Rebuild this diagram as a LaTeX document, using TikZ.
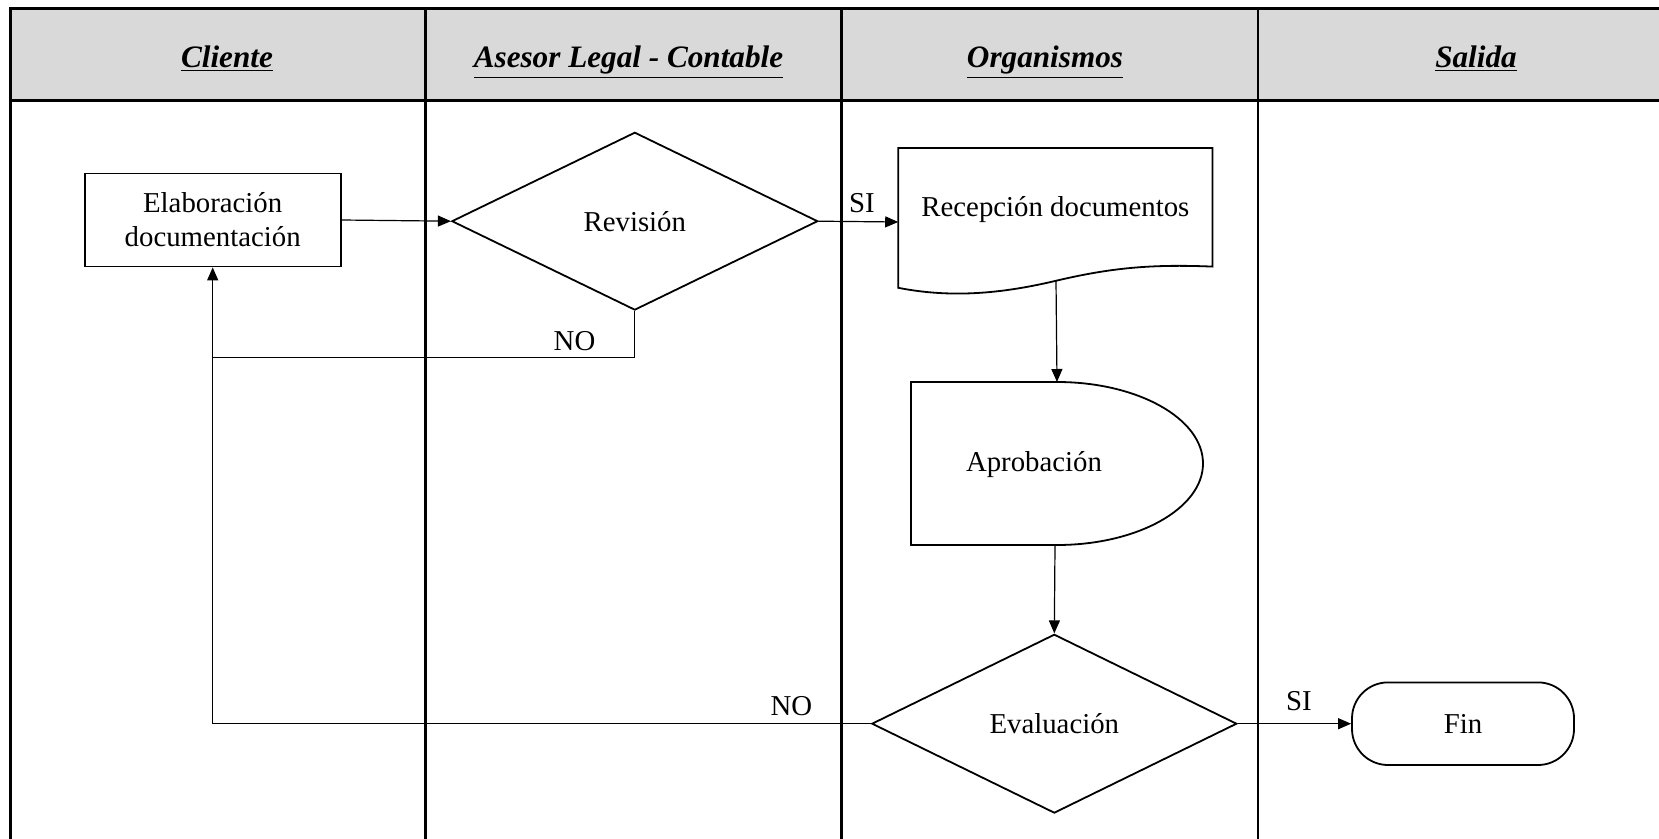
\documentclass[tikz,border=0pt]{standalone}
\usepackage{fontspec}
\setmainfont{Liberation Serif}
\usetikzlibrary{shapes.geometric,arrows.meta}
\definecolor{hdr}{HTML}{D9D9D9}
\begin{document}
\begin{tikzpicture}[x=0.5pt,y=-0.5pt,
  lane/.style={line width=1.4pt},
  shp/.style={draw, line width=0.9pt, fill=white},
  box/.style={shp, font=\fontsize{14.4}{17}\selectfont, align=center},
  dec/.style={box, diamond, aspect=2, inner sep=0pt},
  conn/.style={line width=0.6pt},
  arr/.style={conn, -{Triangle[length=6.5pt,width=5.5pt]}},
  lbl/.style={font=\fontsize{14.4}{17}\selectfont, inner sep=0pt},
  hd/.style={font=\fontsize{15.6}{19}\selectfont\bfseries\itshape, anchor=base, inner sep=0pt}]
\useasboundingbox (0,0) rectangle (1659,839);
\fill[hdr] (10.6,8.5) rectangle (1659,100.5);
\draw[lane] (10.6,839) -- (10.6,8.5) -- (1659,8.5);
\draw[lane] (10.6,100.5) -- (1659,100.5);
\foreach \x in {425.3,841.1,1258} \draw[lane] (\x,8.5) -- (\x,839);
% headers
\node[hd] (h1) at (227,67.5) {\underline{Cliente}};
\node[hd] (h2) at (628.5,67.5) {\underline{Asesor Legal - Contable}};
\node[hd] (h3) at (1045,67.5) {\underline{Organismos}};
\node[hd] (h4) at (1476,67.5) {\underline{Salida}};
% nodes
\node[box, minimum width=128pt, minimum height=46.5pt] (elab) at (212.7,220) {Elaboración\\documentación};
\node[dec, minimum width=183pt, minimum height=88.9pt] (rev) at (634.8,221.2) {Revisión};
\draw[shp] (898.2,148.1) -- (1212.5,148.1) -- (1212.5,266.6)
  .. controls (1150,264) and (1110,268) .. (1055,281)
  .. controls (1000,294) and (950,298) .. (898.2,287.8) -- cycle;
\node[lbl] (rec) at (1055.4,209.5) {Recepción documentos};
\coordinate (recw) at (898.2,222);
\coordinate (recs) at (1056,281);
\draw[shp] (911,382) -- (1057,382) .. controls (1137.6,382) and (1203,418.5) .. (1203,463.5)
  .. controls (1203,508.5) and (1137.6,545) .. (1057,545) -- (911,545) -- cycle;
\node[lbl] (apr) at (1034,465) {Aprobación};
\coordinate (aprn) at (1057,382);
\coordinate (aprs) at (1055,545);
\node[dec, minimum width=182.5pt, minimum height=89.4pt] (eva) at (1054.3,723.7) {Evaluación};
\node[box, rounded corners=18pt, minimum width=111pt, minimum height=41.3pt] (fin) at (1463,723.7) {Fin};
% connectors
\coordinate (j1) at (634.8,357.6);
\coordinate (j2) at (212.7,357.6);
\coordinate (j3) at (212.7,723.7);
\draw[arr] (elab.east) -- (rev.west);
\draw[arr] (rev.east) -- (recw);
\draw[arr] (rev.south) -- (j1) -- (j2) -- (elab.south);
\draw[conn] (eva.west) -- (j3) -- (j2);
\draw[arr] (recs) -- (aprn);
\draw[arr] (aprs) -- (eva.north);
\draw[arr] (eva.east) -- (fin.west);
% labels
\node[lbl] (l1) at (862,203) {SI};
\node[lbl] (l2) at (574.5,340.7) {NO};
\node[lbl] (l3) at (791.4,705.7) {NO};
\node[lbl] (l4) at (1299,701.5) {SI};
\end{tikzpicture}
\end{document}
